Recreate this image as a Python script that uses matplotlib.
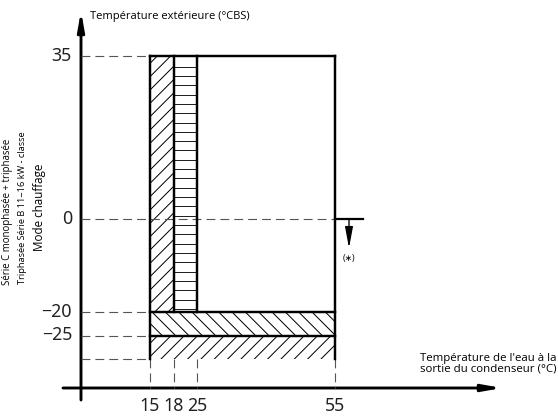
import matplotlib

matplotlib.use("Agg")
import matplotlib.pyplot as plt
import numpy as np
from matplotlib.patches import FancyArrowPatch, Rectangle

# operating envelope, heating mode
water_ticks = [15, 18, 25, 55]          # leaving water temperature (°C)
water_labels = ["15", "18", "25", "55"]
outdoor_ticks = [35, 0, -20, -25]       # outdoor temperature (°C DB)
outdoor_labels = ["35", "0", "\u221220", "\u221225"]
outdoor_min = -30
outdoor_max = 35
backup_limit = -20                      # top of the lower bands
band_limit = -25

# layout of the drawing (pixels of the 558x416 canvas)
W, H, DPI = 558, 416, 80
X_PIX = [150, 174, 197, 335]
PX_PER_DEG = 4.6
Y_ZERO_PIX = 219
PY_PER_DEG = 4.66

plt.rcParams["hatch.linewidth"] = 0.9
TEXT_FONT = ["Open Sans", "DejaVu Sans"]
DIGIT_FONT = ["Noto Sans", "DejaVu Sans"]


def to_px(v):
    v = np.asarray(v, dtype=float)
    p = np.interp(v, water_ticks, X_PIX)
    p = np.where(v < water_ticks[0], X_PIX[0] + (v - water_ticks[0]) * PX_PER_DEG, p)
    p = np.where(v > water_ticks[-1], X_PIX[-1] + (v - water_ticks[-1]) * PX_PER_DEG, p)
    return p


def from_px(p):
    p = np.asarray(p, dtype=float)
    v = np.interp(p, X_PIX, water_ticks)
    v = np.where(p < X_PIX[0], water_ticks[0] + (p - X_PIX[0]) / PX_PER_DEG, v)
    v = np.where(p > X_PIX[-1], water_ticks[-1] + (p - X_PIX[-1]) / PX_PER_DEG, v)
    return v


def ty(py):
    # canvas row -> outdoor temperature
    return (Y_ZERO_PIX - py) / PY_PER_DEG


fig = plt.figure(figsize=(W / DPI, H / DPI), dpi=DPI)
ax = fig.add_axes([0, 0, 1, 1])
ax.set_xscale("function", functions=(to_px, from_px))
ax.set_xlim(float(from_px(0)), float(from_px(W)))
ax.set_ylim(ty(H), ty(0))
ax.axis("off")

x_axis_at = float(from_px(81))
y_axis_at = ty(388)

x15, x18, x25, x55 = water_ticks

# hatched zones
ax.add_patch(Rectangle((x15, backup_limit), x18 - x15, outdoor_max - backup_limit,
                       facecolor="none", edgecolor="black", lw=0, hatch="//"))
ax.add_patch(Rectangle((x15, band_limit), x55 - x15, backup_limit - band_limit,
                       facecolor="none", edgecolor="black", lw=0, hatch="\\\\"))
ax.add_patch(Rectangle((x15, outdoor_min), x55 - x15, band_limit - outdoor_min,
                       facecolor="none", edgecolor="black", lw=0, hatch="//"))
stripes = np.arange(outdoor_max - 2.3, backup_limit, -2.0)
ax.hlines(stripes, x18, x25, color="#222222", lw=0.9)

# dashed guides
dash = dict(color="#555555", lw=1.0, linestyle=(0, (8, 4.5)))
for t in [outdoor_max, backup_limit, band_limit, outdoor_min]:
    ax.plot([x_axis_at, x15], [t, t], **dash)
ax.plot([x_axis_at, x55], [0, 0], **dash)
for x in water_ticks:
    ax.plot([x, x], [outdoor_min, y_axis_at], **dash)

# envelope outline
edge = dict(color="black", lw=2.2, solid_capstyle="projecting")
ax.plot([x15, x55], [outdoor_max, outdoor_max], **edge)
ax.plot([x55, x55], [outdoor_max, outdoor_min], **edge)
ax.plot([x15, x15], [outdoor_max, outdoor_min], **edge)
ax.plot([x18, x18], [outdoor_max, backup_limit], **edge)
ax.plot([x25, x25], [outdoor_max, backup_limit], **edge)
ax.plot([x15, x55], [backup_limit, backup_limit], **edge)
ax.plot([x15, x55], [band_limit, band_limit], **edge)

# note marker at 0 °C
ax.plot([x55, float(from_px(363))], [0, 0], color="black", lw=2.0)
ax.add_patch(FancyArrowPatch((float(from_px(349)), 0), (float(from_px(349)), ty(248)),
                             arrowstyle="-|>,head_length=1.6,head_width=0.3",
                             mutation_scale=10, lw=1.2, color="black",
                             shrinkA=0, shrinkB=0))
ax.text(float(from_px(349)), ty(259), "(\u2217)", ha="center", va="center",
        fontsize=8, family=TEXT_FONT)

# axes with arrows
ax.add_patch(FancyArrowPatch((x_axis_at, ty(400)), (x_axis_at, ty(11)),
                             arrowstyle="-|>,head_length=1.4,head_width=0.25",
                             mutation_scale=10, lw=2.6, color="black",
                             shrinkA=0, shrinkB=0))
ax.add_patch(FancyArrowPatch((float(from_px(63)), y_axis_at), (float(from_px(502)), y_axis_at),
                             arrowstyle="-|>,head_length=1.4,head_width=0.25",
                             mutation_scale=10, lw=2.6, color="black",
                             shrinkA=0, shrinkB=0))

# tick labels
digit_style = dict(fontsize=16, family=DIGIT_FONT, color="#222222", fontweight="light")
for x, lab in zip(water_ticks, water_labels):
    ax.text(x, ty(406), lab, ha="center", va="center", **digit_style)
for t, lab in zip(outdoor_ticks, outdoor_labels):
    ax.text(float(from_px(72)), t, lab, ha="right", va="center", **digit_style)

# axis titles
ax.text(float(from_px(90)), ty(17), "Température extérieure (°CBS)", ha="left",
        va="center", fontsize=10, family=TEXT_FONT)
ax.text(float(from_px(557)), ty(364), "Température de l'eau à la\nsortie du condenseur (°C)",
        ha="right", va="center", fontsize=10.3, family=TEXT_FONT, linespacing=0.95)

ax.text(float(from_px(8)), ty(212), "Série C monophasée + triphasée", rotation=90,
        ha="center", va="center", fontsize=8.7, family=TEXT_FONT)
ax.text(float(from_px(23)), ty(208), "Triphasée Série B 11~16 kW - classe", rotation=90,
        ha="center", va="center", fontsize=8.3, family=TEXT_FONT)
ax.text(float(from_px(39)), ty(207), "Mode chauffage", rotation=90,
        ha="center", va="center", fontsize=10.5, family=TEXT_FONT)

fig.savefig("out.png", dpi=DPI)
